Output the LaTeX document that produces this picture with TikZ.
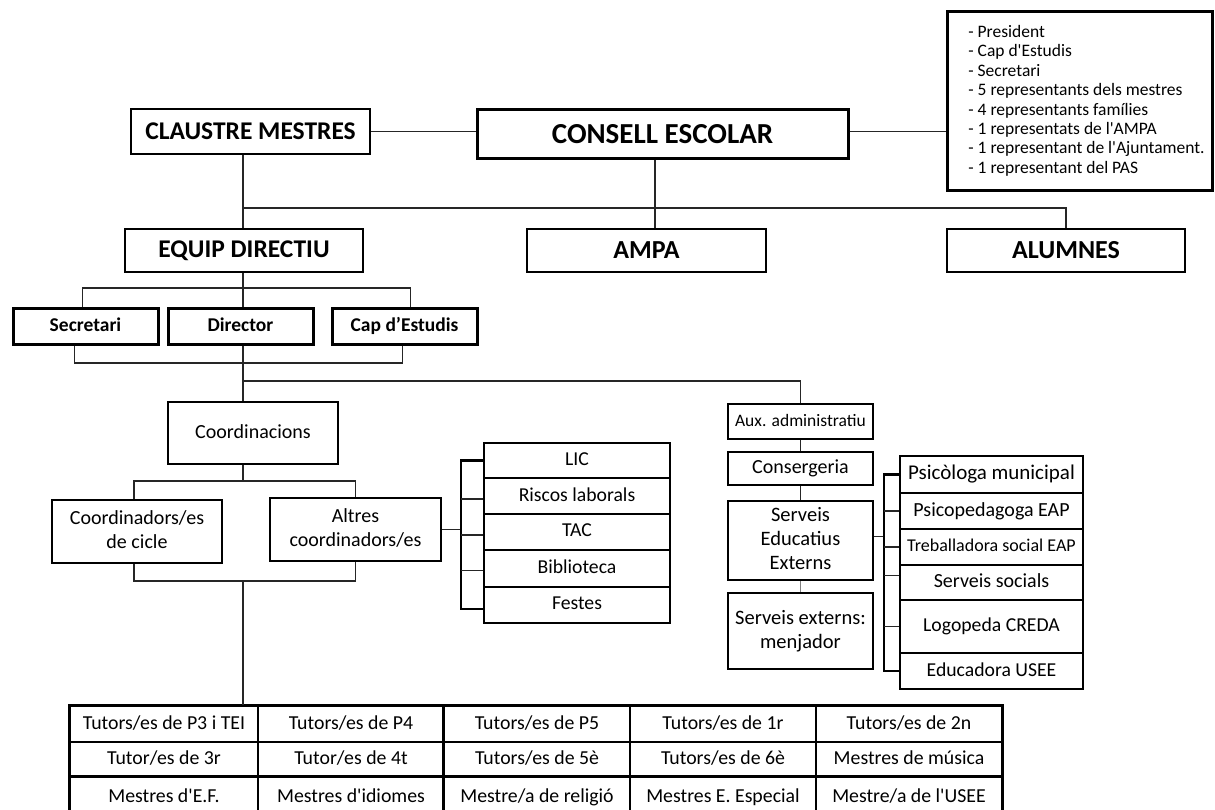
\documentclass[tikz,border=0pt]{standalone}
\usepackage{fontspec}
\setmainfont{Carlito}
\newfontfamily\carl{Carlito}
\newcommand\st{\vphantom{Xg}}
\newcommand\mkbox[7]{\node[#1, minimum width={#5pt-#3pt}, minimum height={#6pt-#4pt}] (#2) at ({(#3+#5)/2},{(#4+#6)/2}) {\st #7};}
\newcommand\mkboxc[7]{\node[#1, minimum width={#5pt-#3pt}, minimum height={#6pt-#4pt}] (#2) at ({(#3+#5)/2},{(#4+#6)/2}) {\vphantom{X}#7};}
\begin{document}
\begin{tikzpicture}[x=1pt,y=-1pt,
  box/.style={draw, line width=2.6pt, inner sep=0pt, align=center, text=black},
  cell/.style={draw, line width=1.8pt, inner sep=0pt, align=center, text=black},
  conn/.style={line width=1.4pt, draw=black!85},
  brk/.style={line width=2.2pt, draw=black},
  fA/.style={font=\carl\fontsize{25.5}{29}\selectfont\bfseries},
  fB/.style={font=\carl\fontsize{29}{33}\selectfont\bfseries},
  fC/.style={font=\carl\fontsize{26}{30}\selectfont\bfseries},
  fD/.style={font=\carl\fontsize{19.5}{23}\selectfont\bfseries},
  fE/.style={font=\carl\fontsize{20}{24}\selectfont},
  fS/.style={font=\carl\fontsize{20.5}{24}\selectfont},
  fF/.style={font=\carl\fontsize{19.7}{23}\selectfont},
  fG/.style={font=\carl\fontsize{17.5}{22}\selectfont},
  fP/.style={font=\carl\fontsize{21}{24}\selectfont},
  fH/.style={font=\carl\fontsize{18}{22}\selectfont},
  fT/.style={font=\carl\fontsize{19.8}{23}\selectfont},
  fI/.style={font=\carl\fontsize{17.5}{19.4}\selectfont}
]
\useasboundingbox (0,0) rectangle (1215,810);
\clip (0,0) rectangle (1215,810);
\fill[white] (0,0) rectangle (1215,810);

% top level
\node[box, fI, line width=3pt, minimum width=265pt, minimum height=179pt] (info) at (1079.5,101.5)
 {\hspace*{14pt}\begin{tabular}{@{}l@{}}- President\\- Cap d'Estudis\\- Secretari\\- 5 representants dels mestres\\- 4 representants famílies\\- 1 representats de l'AMPA\\- 1 representant de l'Ajuntament.\\- 1 representant del PAS\end{tabular}};
\mkboxc{box,fA}{claustre}{131}{109}{370}{154}{CLAUSTRE MESTRES}
\mkboxc{box,fB,line width=3pt}{consell}{477}{110}{848}{159}{CONSELL ESCOLAR}
\mkboxc{box,fA}{equip}{125}{229}{363}{272}{EQUIP DIRECTIU}
\mkboxc{box,fC}{ampa}{527}{229}{766}{272}{AMPA}
\mkboxc{box,fC}{alumnes}{947}{229}{1185}{272}{ALUMNES}

% direction
\mkbox{box,fD,line width=3pt}{secretari}{13}{308}{158}{344}{Secretari}
\mkbox{box,fD,line width=3pt}{director}{168}{308}{313}{344}{Director}
\mkbox{box,fD,line width=3pt}{cap}{332}{308}{477}{344}{Cap d’Estudis}

% coordination
\mkbox{box,fE}{coord}{168}{402}{338}{464}{Coordinacions}
\mkbox{box,fE}{cicle}{52}{500}{222}{563}{Coordinadors/es\\de cicle\st}
\mkbox{box,fE}{altres}{270}{498}{441}{561}{Altres\\coordinadors/es\st}

\mkbox{cell,fF}{lic}{484}{443}{670}{478}{LIC}
\mkbox{cell,fF}{riscos}{484}{478}{670}{514}{Riscos laborals}
\mkbox{cell,fF}{tac}{484}{514}{670}{550}{TAC}
\mkbox{cell,fF}{biblio}{484}{550}{670}{587}{Biblioteca}
\mkbox{cell,fF}{festes}{484}{587}{670}{623}{Festes}

% services
\mkbox{box,fG}{aux}{728}{404}{873}{439}{Aux. administratiu}
\mkbox{box,fE}{conserg}{728}{452}{873}{485}{Consergeria}
\mkbox{box,fS}{see}{728}{501}{873}{580}{Serveis\\Educatius\\Externs\st}
\mkbox{box,fS}{menj}{728}{593}{873}{669}{Serveis externs:\\menjador\st}

\mkbox{cell,fP,line width=2.2pt}{psico}{900}{456}{1083}{493}{Psicòloga municipal}
\mkbox{cell,fE,line width=2.2pt}{psped}{900}{493}{1083}{529}{Psicopedagoga EAP}
\mkbox{cell,fH,line width=2.2pt}{treb}{900}{529}{1083}{565}{Treballadora social EAP}
\mkbox{cell,fE,line width=2.2pt}{socials}{900}{565}{1083}{600}{Serveis socials}
\mkbox{cell,fF,line width=2.2pt}{logo}{900}{600}{1083}{653}{Logopeda CREDA}
\mkbox{cell,fF,line width=2.2pt}{educ}{900}{653}{1083}{689}{Educadora USEE}

% table
\mkbox{cell,fT}{t11}{70}{706}{258}{742}{Tutors/es de P3 i TEI}
\mkbox{cell,fT}{t12}{258}{706}{444}{742}{Tutors/es de P4}
\mkbox{cell,fT}{t13}{444}{706}{630}{742}{Tutors/es de P5}
\mkbox{cell,fT}{t14}{630}{706}{816}{742}{Tutors/es de 1r}
\mkbox{cell,fT}{t15}{816}{706}{1002}{742}{Tutors/es de 2n}
\mkbox{cell,fT}{t21}{70}{742}{258}{777}{Tutor/es de 3r}
\mkbox{cell,fT}{t22}{258}{742}{444}{777}{Tutor/es de 4t}
\mkbox{cell,fT}{t23}{444}{742}{630}{777}{Tutors/es de 5è}
\mkbox{cell,fT}{t24}{630}{742}{816}{777}{Tutors/es de 6è}
\mkbox{cell,fT}{t25}{816}{742}{1002}{777}{Mestres de música}
\mkbox{cell,fT}{t31}{70}{777}{258}{818}{Mestres d'E.F.}
\mkbox{cell,fT}{t32}{258}{777}{444}{818}{Mestres d'idiomes}
\mkbox{cell,fT}{t33}{444}{777}{630}{818}{Mestre/a de religió}
\mkbox{cell,fT}{t34}{630}{777}{816}{818}{Mestres E. Especial}
\mkbox{cell,fT}{t35}{816}{777}{1002}{818}{Mestre/a de l'USEE}
\draw[line width=3pt] (t11.north west) rectangle (t35.south east);
\draw[line width=2.6pt] (t31.north west) -- (t35.north east);
\draw[line width=2.6pt] (t13.north west) -- (t33.south west);

% bus coordinates
\coordinate (trunk) at (243,0);
\coordinate (b1) at (0,208);
\coordinate (b2) at (0,288);
\coordinate (b3) at (0,363);
\coordinate (b4) at (0,381);
\coordinate (b5) at (0,481);
\coordinate (b6) at (0,581);
\coordinate (br1) at (461,0);
\coordinate (br2) at (884,0);
\coordinate (ce) at (655,0);

% connectors
\draw[conn] (claustre.east) -- (claustre.east -| consell.west);
\draw[conn] ([yshift=3pt]consell.east) -- ([yshift=3pt]consell.east -| info.west);
\draw[conn] (trunk |- claustre.south) -- (trunk |- equip.north);
\draw[conn] (trunk |- b1) -| (alumnes.north);
\draw[conn] (ce |- consell.south) -- (ce |- ampa.north);

\draw[conn] (trunk |- equip.south) -- (trunk |- director.north);
\draw[conn] ([xshift=-3pt]secretari.north) -- ([xshift=-3pt]secretari.north |- b2) -- ([xshift=6pt]cap.north |- b2) -- ([xshift=6pt]cap.north);
\draw[conn] ([xshift=-11pt]secretari.south) -- ([xshift=-11pt]secretari.south |- b3) -- ([xshift=-2pt]cap.south |- b3) -- ([xshift=-2pt]cap.south);
\draw[conn] (trunk |- director.south) -- (trunk |- coord.north);
\draw[conn] (trunk |- b4) -| (aux.north);

\draw[conn] (trunk |- coord.south) -- (trunk |- b5);
\draw[conn] ([xshift=-3pt]cicle.north) -- ([xshift=-3pt]cicle.north |- b5) -- (altres.north |- b5) -- (altres.north);
\draw[conn] ([xshift=-3pt]cicle.south) -- ([xshift=-3pt]cicle.south |- b6) -- (altres.south |- b6) -- (altres.south);
\draw[conn] (trunk |- b6) -- (trunk |- t11.north);

\draw[conn] (altres.east) -- (altres.east -| br1);
\draw[brk] (lic.west) -- (br1 |- lic.west) -- ([yshift=-4pt]br1 |- festes.west) -- ([yshift=-4pt]festes.west);
\draw[conn] ([yshift=-3pt]br1 |- riscos.west) -- ([yshift=-3pt]riscos.west);
\draw[conn] ([yshift=-3pt]br1 |- tac.west) -- ([yshift=-3pt]tac.west);
\draw[conn] ([yshift=-2pt]br1 |- biblio.west) -- ([yshift=-2pt]biblio.west);

\draw[conn] (aux.south) -- (conserg.north);
\draw[conn] (conserg.south) -- (see.north);
\draw[conn, draw=black!50] (see.south) -- (menj.north);

\draw[conn] ([yshift=4pt]see.east) -- ([yshift=4pt]see.east -| br2);
\draw[brk] (psico.west) -- (br2 |- psico.west) -- (br2 |- educ.west) -- (educ.west);
\draw[conn] (br2 |- psped.west) -- (psped.west);
\draw[conn] (br2 |- treb.west) -- (treb.west);
\draw[conn] ([yshift=7pt]br2 |- socials.west) -- ([yshift=7pt]socials.west);
\draw[conn] (br2 |- logo.west) -- (logo.west);
\end{tikzpicture}
\end{document}
